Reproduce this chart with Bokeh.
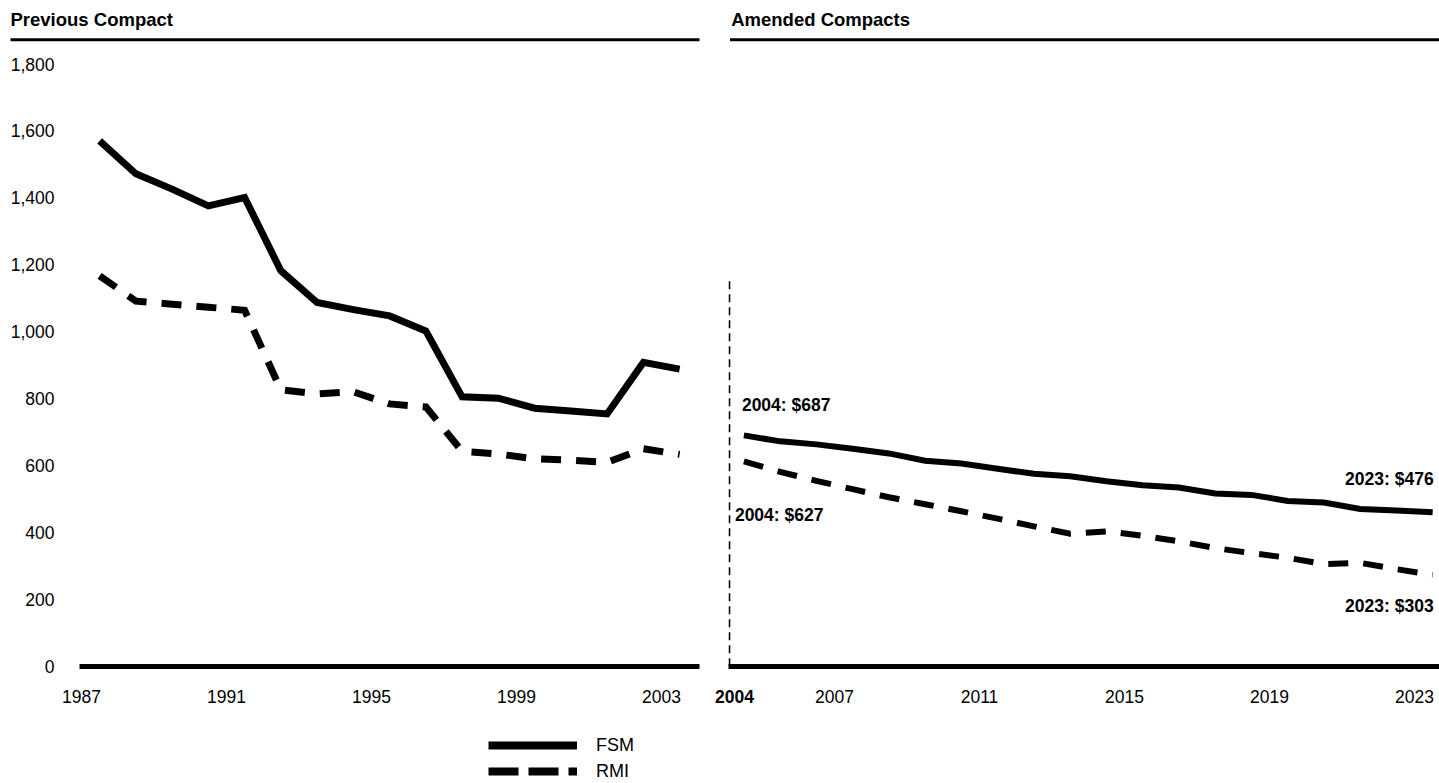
from bokeh.plotting import figure
from bokeh.models import (Range1d, FixedTicker, CustomJSTickFormatter, NumeralTickFormatter,
                          Legend, LegendItem, LinearAxis)
from bokeh.layouts import column, row
from bokeh.embed import file_html
from bokeh.resources import INLINE
from bokeh.core.properties import value

FONT = "Liberation Sans"

# ---------------- data ----------------
prev_years = list(range(1987, 2004))
prev_fsm = [1570, 1472, 1426, 1376, 1401, 1182, 1087, 1066, 1047, 1002,
            805, 801, 771, 763, 754, 908, 888]
prev_rmi = [1167, 1091, 1082, 1073, 1064, 826, 814, 820, 784, 775,
            642, 634, 620, 616, 609, 650, 633]

amend_years = list(range(2004, 2024))
amend_fsm = [690, 672, 663, 650, 636, 614, 606, 590, 575, 568,
             553, 541, 534, 516, 512, 494, 489, 470, 465, 460]
amend_rmi = [612, 581, 554, 529, 505, 484, 463, 441, 418, 396,
             403, 390, 373, 353, 338, 324, 305, 309, 290, 273]

prev_tick_years = [1987, 1991, 1995, 1999, 2003]
amend_tick_years = [2007, 2011, 2015, 2019, 2023]
first_amend_label = "2004"
y_ticks = [0, 200, 400, 600, 800, 1000, 1200, 1400, 1600, 1800]
panel_titles = ["Previous Compact", "Amended Compacts"]
series_names = ["FSM", "RMI"]
start_notes = ["2004: $687", "2004: $627"]
end_notes = ["2023: $476", "2023: $303"]

# ---------------- layout constants ----------------
TOTAL_W = 1439
H_HEAD = 48
H_PLOT = 667
H_FOOT = 68
B_TOP, B_BOT = 10, 49
Y_START, Y_END = -1, 1816.5

W1, L1, R1 = 712, 79, 13
W2, L2, R2 = 727, 16, 0
PX = 36.25

x1_start = prev_years[0] - 0.5 - 2 / PX
x1_range = Range1d(x1_start, x1_start + (W1 - L1 - R1) / PX)
x2_start = amend_years[0] - 0.425
x2_range = Range1d(x2_start, x2_start + (W2 - L2 - R2) / PX)

TICK_FS = "17.5px"
STANDOFF = 23


def style_xaxis(ax, tick_years):
    ax.ticker = FixedTicker(ticks=[y - 0.5 for y in tick_years])
    ax.formatter = CustomJSTickFormatter(code="return String(Math.round(tick + 0.5));")
    ax.axis_line_width = 5
    ax.axis_line_color = "black"
    ax.major_tick_line_color = None
    ax.minor_tick_line_color = None
    ax.major_tick_out = 0
    ax.major_tick_in = 0
    ax.major_label_standoff = STANDOFF
    ax.major_label_text_font = FONT
    ax.major_label_text_font_size = TICK_FS
    ax.major_label_text_color = "black"


def base_fig(width, xr, bl, br, yaxis):
    p = figure(width=width, height=H_PLOT, x_range=xr, y_range=Range1d(Y_START, Y_END),
               output_backend="svg", toolbar_location=None,
               min_border_left=bl, min_border_right=br,
               min_border_top=B_TOP, min_border_bottom=B_BOT,
               y_axis_location="left" if yaxis else None)
    p.grid.visible = False
    p.outline_line_color = None
    p.background_fill_color = "white"
    p.border_fill_color = "white"
    return p


# ---------------- header (titles + rules) ----------------
hp = figure(width=TOTAL_W, height=H_HEAD, x_range=Range1d(0, TOTAL_W), y_range=Range1d(H_HEAD, 0),
            output_backend="svg", toolbar_location=None, min_border=0,
            x_axis_location=None, y_axis_location=None)
hp.grid.visible = False
hp.outline_line_color = None
hp.text(x=[10, 730.7], y=[19, 19], text=panel_titles, text_font=value(FONT),
        text_font_style="bold", text_font_size="18.5px", text_align="left",
        text_baseline="middle", text_color="black")
hp.segment(x0=[10, 729.5], y0=[39.3, 39.3], x1=[699, TOTAL_W], y1=[39.3, 39.3],
           line_width=3, line_color="black")

# ---------------- left panel ----------------
p1 = base_fig(W1, x1_range, L1, R1, True)
p1.line(prev_years, prev_fsm, line_width=7, line_color="black", line_join="miter")
p1.line(prev_years, prev_rmi, line_width=7, line_color="black",
        line_dash="20 15", line_join="miter")
style_xaxis(p1.xaxis[0], prev_tick_years)
ya = p1.yaxis[0]
ya.ticker = FixedTicker(ticks=y_ticks)
ya.formatter = NumeralTickFormatter(format="0,0")
ya.axis_line_color = None
ya.major_tick_line_color = None
ya.minor_tick_line_color = None
ya.major_tick_out = 0
ya.major_tick_in = 0
ya.major_label_standoff = 25
ya.major_label_text_font = FONT
ya.major_label_text_font_size = TICK_FS
ya.major_label_text_color = "black"

# ---------------- right panel ----------------
p2 = base_fig(W2, x2_range, L2, R2, False)
p2.line(amend_years, amend_fsm, line_width=6, line_color="black", line_join="miter")
p2.line(amend_years, amend_rmi, line_width=6, line_color="black",
        line_dash="20 15", line_join="miter")
style_xaxis(p2.xaxis[0], amend_tick_years)

div_x = amend_years[0] - 0.4
p2.segment(x0=[div_x], y0=[0], x1=[div_x], y1=[1157], line_width=1.8,
           line_color="black", line_dash="8 5")

# bold first-year label, pulled back onto the row of the other year labels
bold_ax = LinearAxis(ticker=FixedTicker(ticks=[div_x]),
                     formatter=CustomJSTickFormatter(code="return String(Math.round(tick + 0.5));"),
                     axis_line_color=None, major_tick_line_color=None,
                     minor_tick_line_color=None, major_tick_out=0, major_tick_in=0,
                     major_label_standoff=-16, major_label_text_font=FONT,
                     major_label_text_font_size=TICK_FS, major_label_text_font_style="bold",
                     major_label_text_color="black")
p2.add_layout(bold_ax, "below")

p2.text(x=[amend_years[0], amend_years[0]], y=[amend_fsm[0], amend_rmi[0]], text=start_notes,
        x_offset=[-2, -9], y_offset=[-30, 54], text_font=value(FONT), text_font_style="bold",
        text_font_size="17.5px", text_align="left", text_baseline="middle", text_color="black")
p2.text(x=[amend_years[-1], amend_years[-1]], y=[amend_fsm[-1], amend_rmi[-1]], text=end_notes,
        x_offset=[1, 1], y_offset=[-33, 31], text_font=value(FONT), text_font_style="bold",
        text_font_size="17.5px", text_align="right", text_baseline="middle", text_color="black")

# ---------------- footer legend ----------------
fp = figure(width=TOTAL_W, height=H_FOOT, x_range=Range1d(0, TOTAL_W), y_range=Range1d(0, H_FOOT),
            output_backend="svg", toolbar_location=None, min_border=0,
            x_axis_location=None, y_axis_location=None)
fp.grid.visible = False
fp.outline_line_color = None
# legend keys: same series, drawn outside this strip's visible range (only their keys show)
k_fsm = fp.line(prev_years, prev_fsm, line_width=8, line_color="black")
k_rmi = fp.line(prev_years, prev_rmi, line_width=8, line_color="black", line_dash="30 10")
legend = Legend(items=[LegendItem(label=series_names[0], renderers=[k_fsm]),
                       LegendItem(label=series_names[1], renderers=[k_rmi])],
                location=(488, -1), orientation="vertical",
                glyph_width=89, glyph_height=26, label_height=26, label_standoff=19,
                spacing=0, padding=0, margin=0, border_line_color=None,
                background_fill_alpha=0, label_text_font=FONT,
                label_text_font_size="18px", label_text_color="black")
fp.add_layout(legend)

layout = column(hp, row(p1, p2, spacing=0), fp, spacing=0)
open("out.html", "w").write(file_html(layout, INLINE))
